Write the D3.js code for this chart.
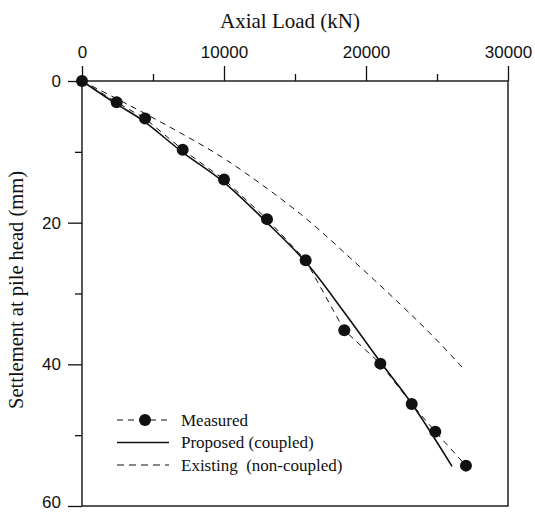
<!DOCTYPE html>
<html>
<head>
<meta charset="utf-8">
<script src="https://cdn.jsdelivr.net/npm/d3@7"></script>
<style>
  body { margin: 0; background: #fff; }
  svg { display: block; }
</style>
</head>
<body>
<svg id="chart"></svg>
<script>
const width = 535;
const height = 513;

// Measured load-settlement points (kN, mm)
const measuredLoad = [0, 2440, 4440, 7090, 10000, 13030, 15750, 18470, 21010, 23220, 24880, 27040];
const measuredSettle = [0, 3.0, 5.3, 9.7, 13.9, 19.5, 25.3, 35.2, 39.9, 45.6, 49.5, 54.3];

// Proposed (coupled) curve
const proposedLoad = [0, 2390, 4370, 7040, 10000, 13030, 15770, 18450, 20990, 23240, 26060];
const proposedSettle = [0, 3.2, 5.7, 10.0, 14.3, 20.0, 25.6, 32.6, 39.6, 45.6, 54.4];

// Existing (non-coupled) curve
const existingLoad = [0, 3400, 6900, 10200, 15400, 18900, 22400, 24700, 27000];
const existingSettle = [0, 3.5, 7.3, 11.2, 18.8, 25.0, 31.5, 36.0, 40.9];

const xMajor = [0, 10000, 20000, 30000];
const xMinor = [5000, 15000, 25000];
const yMajor = [0, 20, 40, 60];
const yMinor = [10, 30, 50];

const serif = "'Liberation Serif', 'Times New Roman', serif";
const sans = "'Liberation Sans', Arial, sans-serif";

const svg = d3.select("#chart").attr("width", width).attr("height", height);

const x = d3.scaleLinear().domain([0, 30000]).range([82, 508]);
const y = d3.scaleLinear().domain([0, 60]).range([81, 506]);

// axes
const xAxis = svg.append("g")
  .attr("transform", `translate(0,${y(0)})`)
  .call(d3.axisTop(x).tickValues(xMajor).tickSize(15).tickPadding(8).tickFormat(d3.format("d")));
xAxis.select(".domain").remove();
xAxis.selectAll("line").attr("stroke", "#111").attr("stroke-width", 1.3);
xAxis.selectAll("text").attr("font-family", sans).attr("font-size", 17).attr("fill", "#111");

svg.append("g")
  .attr("transform", `translate(0,${y(0)})`)
  .call(d3.axisTop(x).tickValues(xMinor).tickSize(7).tickFormat(""))
  .call((g) => g.select(".domain").remove())
  .selectAll("line").attr("stroke", "#111").attr("stroke-width", 1.3);

const yAxis = svg.append("g")
  .attr("transform", `translate(${x(0)},0)`)
  .call(d3.axisLeft(y).tickValues(yMajor).tickSize(14).tickPadding(7));
yAxis.select(".domain").remove();
yAxis.selectAll("line").attr("stroke", "#111").attr("stroke-width", 1.3);
yAxis.selectAll("text").attr("font-family", sans).attr("font-size", 17).attr("fill", "#111")
  .attr("dy", (d) => (d === 60 ? "0.1em" : "0.32em"));

svg.append("g")
  .attr("transform", `translate(${x(0)},0)`)
  .call(d3.axisLeft(y).tickValues(yMinor).tickSize(7).tickFormat(""))
  .call((g) => g.select(".domain").remove())
  .selectAll("line").attr("stroke", "#111").attr("stroke-width", 1.3);

// frame
svg.append("rect")
  .attr("x", x(0))
  .attr("y", y(0))
  .attr("width", x(30000) - x(0))
  .attr("height", y(60) - y(0))
  .attr("fill", "none")
  .attr("stroke", "#111")
  .attr("stroke-width", 1.4);

// titles
svg.append("text")
  .attr("x", 290)
  .attr("y", 28)
  .attr("text-anchor", "middle")
  .attr("font-family", serif)
  .attr("font-size", 21)
  .attr("fill", "#111")
  .text("Axial Load (kN)");

svg.append("text")
  .attr("transform", "translate(23,290) rotate(-90)")
  .attr("text-anchor", "middle")
  .attr("font-family", serif)
  .attr("font-size", 20.5)
  .attr("fill", "#111")
  .text("Settlement at pile head (mm)");

// curves
const toPts = (xs, ys) => xs.map((v, i) => [v, ys[i]]);
const line = d3.line().x((d) => x(d[0])).y((d) => y(d[1]));
const smooth = d3.line().x((d) => x(d[0])).y((d) => y(d[1])).curve(d3.curveCatmullRom.alpha(0.5));

svg.append("path")
  .attr("d", smooth(toPts(existingLoad, existingSettle)))
  .attr("fill", "none")
  .attr("stroke", "#111")
  .attr("stroke-width", 1)
  .attr("stroke-dasharray", "6,5");

svg.append("path")
  .attr("d", smooth(toPts(proposedLoad, proposedSettle)))
  .attr("fill", "none")
  .attr("stroke", "#111")
  .attr("stroke-width", 1.6);

const measured = toPts(measuredLoad, measuredSettle);
svg.append("path")
  .attr("d", line(measured))
  .attr("fill", "none")
  .attr("stroke", "#111")
  .attr("stroke-width", 1)
  .attr("stroke-dasharray", "6,5");

svg.append("g")
  .selectAll("circle")
  .data(measured)
  .enter()
  .append("circle")
  .attr("cx", (d) => x(d[0]))
  .attr("cy", (d) => y(d[1]))
  .attr("r", 6)
  .attr("fill", "#111");

// legend
const legend = svg.append("g").attr("font-family", serif).attr("font-size", 17).attr("fill", "#111");
const items = [
  { label: "Measured", dash: "6,5", width: 1, marker: true },
  { label: "Proposed (coupled)", dash: null, width: 1.6, marker: false },
  { label: "Existing  (non-coupled)", dash: "7,5", width: 1, marker: false }
];
items.forEach((it, i) => {
  const ly = 420 + i * 22.5;
  legend.append("line")
    .attr("x1", 117).attr("x2", 169)
    .attr("y1", ly).attr("y2", ly)
    .attr("stroke", "#111")
    .attr("stroke-width", it.width)
    .attr("stroke-dasharray", it.dash);
  if (it.marker) {
    legend.append("circle").attr("cx", 145).attr("cy", ly).attr("r", 6).attr("fill", "#111");
  }
  legend.append("text")
    .attr("x", 181)
    .attr("y", ly + 5.5)
    .style("white-space", "pre")
    .text(it.label);
});
</script>
</body>
</html>
